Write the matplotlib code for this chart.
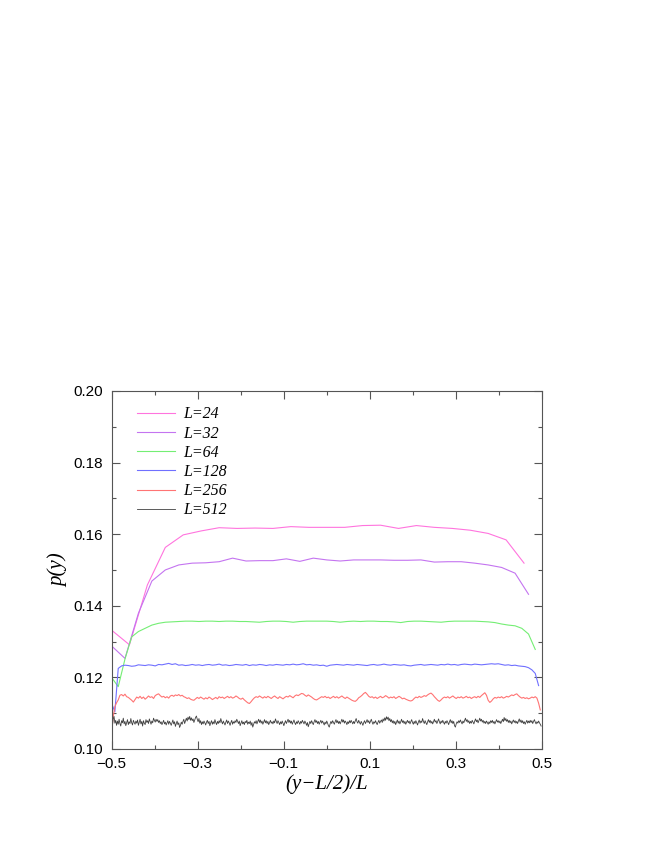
import numpy as np
import matplotlib
matplotlib.use("Agg")
import matplotlib.pyplot as plt
from matplotlib.ticker import MultipleLocator, FixedLocator

# p(y) profiles for each system size L, one value per site y = 0..L-1
L_SIZES = [24, 32, 64, 128, 256, 512]
LABELS = ["L=24", "L=32", "L=64", "L=128", "L=256", "L=512"]
COLORS = ["#ff74de", "#c474f0", "#74ee74", "#7070ff", "#ff7474", "#404040"]
WIDTHS = [0.8, 0.8, 0.8, 0.8, 0.8, 0.6]

p24 = [0.1332, 0.1291, 0.1458, 0.1563, 0.1598, 0.1609, 0.1618, 0.1616, 0.1617, 0.1616,
       0.1621, 0.1619, 0.1619, 0.1619, 0.1624, 0.1625, 0.1616, 0.1624, 0.1619, 0.1616,
       0.1611, 0.1602, 0.1584, 0.1519]

p32 = [0.1288, 0.1253, 0.1379, 0.1469, 0.1500, 0.1514, 0.1519, 0.1520, 0.1523, 0.1533,
       0.1525, 0.1526, 0.1526, 0.1531, 0.1524, 0.1533, 0.1528, 0.1525, 0.1528, 0.1528,
       0.1528, 0.1527, 0.1527, 0.1528, 0.1522, 0.1523, 0.1523, 0.1519, 0.1514, 0.1507,
       0.1491, 0.1432]

p64 = [0.1200, 0.1174, 0.1251, 0.1313, 0.1328, 0.1337, 0.1346, 0.1351, 0.1354, 0.1355,
       0.1356, 0.1357, 0.1357, 0.1356, 0.1357, 0.1357, 0.1356, 0.1357, 0.1357, 0.1356,
       0.1356, 0.1355, 0.1354, 0.1356, 0.1357, 0.1357, 0.1356, 0.1354, 0.1356, 0.1357,
       0.1357, 0.1357, 0.1357, 0.1356, 0.1354, 0.1356, 0.1357, 0.1356, 0.1357, 0.1357,
       0.1356, 0.1356, 0.1355, 0.1353, 0.1356, 0.1357, 0.1357, 0.1356, 0.1355, 0.1354,
       0.1356, 0.1357, 0.1357, 0.1357, 0.1357, 0.1356, 0.1355, 0.1353, 0.1349, 0.1346,
       0.1344, 0.1337, 0.1321, 0.1278]

p128 = [0.1128, 0.1104, 0.1225, 0.1232, 0.1234, 0.1233, 0.1231, 0.1232, 0.1235, 0.1234,
        0.1233, 0.1235, 0.1234, 0.1232, 0.1236, 0.1235, 0.1237, 0.1239, 0.1236, 0.1238,
        0.1234, 0.1235, 0.1233, 0.1234, 0.1236, 0.1234, 0.1235, 0.1233, 0.1235, 0.1236,
        0.1234, 0.1235, 0.1237, 0.1234, 0.1235, 0.1233, 0.1234, 0.1236, 0.1235, 0.1234,
        0.1236, 0.1233, 0.1235, 0.1234, 0.1236, 0.1235, 0.1233, 0.1235, 0.1234, 0.1236,
        0.1235, 0.1234, 0.1236, 0.1235, 0.1237, 0.1235, 0.1236, 0.1238, 0.1235, 0.1236,
        0.1234, 0.1235, 0.1233, 0.1234, 0.1231, 0.1234, 0.1235, 0.1236, 0.1235, 0.1234,
        0.1236, 0.1235, 0.1234, 0.1236, 0.1235, 0.1234, 0.1233, 0.1235, 0.1236, 0.1234,
        0.1235, 0.1237, 0.1235, 0.1234, 0.1236, 0.1235, 0.1234, 0.1235, 0.1233, 0.1232,
        0.1234, 0.1235, 0.1236, 0.1234, 0.1235, 0.1236, 0.1235, 0.1234, 0.1236, 0.1235,
        0.1237, 0.1235, 0.1236, 0.1234, 0.1236, 0.1237, 0.1236, 0.1235, 0.1237, 0.1236,
        0.1235, 0.1236, 0.1237, 0.1238, 0.1237, 0.1238, 0.1236, 0.1234, 0.1235, 0.1233,
        0.1234, 0.1232, 0.1231, 0.1230, 0.1227, 0.1221, 0.1211, 0.1177]

p256 = [0.1044, 0.1090, 0.1118, 0.1129, 0.1137, 0.1150, 0.1152, 0.1148, 0.1153, 0.1146, 0.1144, 0.1140, 0.1136, 0.1131, 0.1138, 0.1145,
        0.1142, 0.1147, 0.1141, 0.1145, 0.1139, 0.1143, 0.1148, 0.1144, 0.1146, 0.1141, 0.1149, 0.1152, 0.1154, 0.1149, 0.1145, 0.1147,
        0.1143, 0.1146, 0.1142, 0.1148, 0.1150, 0.1147, 0.1151, 0.1149, 0.1152, 0.1148, 0.1150, 0.1146, 0.1144, 0.1141, 0.1143, 0.1139,
        0.1137, 0.1136, 0.1140, 0.1144, 0.1141, 0.1145, 0.1142, 0.1139, 0.1143, 0.1140, 0.1145, 0.1142, 0.1138, 0.1141, 0.1144, 0.1140,
        0.1146, 0.1143, 0.1145, 0.1141, 0.1144, 0.1147, 0.1143, 0.1146, 0.1142, 0.1144, 0.1148, 0.1145, 0.1141, 0.1139, 0.1142, 0.1137,
        0.1133, 0.1129, 0.1127, 0.1132, 0.1138, 0.1143, 0.1146, 0.1144, 0.1148, 0.1145, 0.1142, 0.1146, 0.1143, 0.1147, 0.1144, 0.1141,
        0.1145, 0.1148, 0.1144, 0.1141, 0.1146, 0.1143, 0.1140, 0.1144, 0.1147, 0.1145, 0.1149, 0.1146, 0.1143, 0.1148, 0.1151, 0.1149,
        0.1152, 0.1155, 0.1154, 0.1150, 0.1147, 0.1151, 0.1148, 0.1145, 0.1141, 0.1138, 0.1137, 0.1140, 0.1143, 0.1146, 0.1144, 0.1147,
        0.1143, 0.1145, 0.1141, 0.1144, 0.1147, 0.1143, 0.1146, 0.1142, 0.1145, 0.1148, 0.1144, 0.1141, 0.1145, 0.1142, 0.1139, 0.1136,
        0.1134, 0.1133, 0.1137, 0.1143, 0.1146, 0.1150, 0.1155, 0.1158, 0.1153, 0.1147, 0.1144, 0.1146, 0.1142, 0.1145, 0.1141, 0.1144,
        0.1147, 0.1143, 0.1145, 0.1149, 0.1146, 0.1142, 0.1145, 0.1143, 0.1146, 0.1141, 0.1144, 0.1147, 0.1144, 0.1140, 0.1142, 0.1139,
        0.1137, 0.1135, 0.1134, 0.1136, 0.1141, 0.1145, 0.1143, 0.1147, 0.1144, 0.1146, 0.1149, 0.1147, 0.1151, 0.1154, 0.1156, 0.1152,
        0.1146, 0.1141, 0.1136, 0.1133, 0.1137, 0.1142, 0.1145, 0.1143, 0.1146, 0.1142, 0.1145, 0.1148, 0.1144, 0.1141, 0.1145, 0.1143,
        0.1146, 0.1142, 0.1144, 0.1147, 0.1143, 0.1145, 0.1141, 0.1144, 0.1146, 0.1143, 0.1147, 0.1144, 0.1149, 0.1153, 0.1157, 0.1150,
        0.1136, 0.1130, 0.1134, 0.1140, 0.1144, 0.1142, 0.1145, 0.1143, 0.1146, 0.1142, 0.1144, 0.1147, 0.1145, 0.1148, 0.1151, 0.1149,
        0.1152, 0.1154, 0.1149, 0.1145, 0.1142, 0.1144, 0.1141, 0.1143, 0.1140, 0.1142, 0.1145, 0.1143, 0.1146, 0.1142, 0.1128, 0.1109]

p512 = [0.1040, 0.1062, 0.1084, 0.1091, 0.1072, 0.1080, 0.1066, 0.1078, 0.1069, 0.1083, 0.1071, 0.1064, 0.1079, 0.1073, 0.1086, 0.1070,
        0.1077, 0.1065, 0.1074, 0.1082, 0.1068, 0.1076, 0.1071, 0.1085, 0.1073, 0.1067, 0.1080, 0.1074, 0.1069, 0.1078, 0.1072, 0.1081,
        0.1066, 0.1075, 0.1083, 0.1070, 0.1077, 0.1064, 0.1079, 0.1072, 0.1068, 0.1082, 0.1074, 0.1079, 0.1071, 0.1084, 0.1076, 0.1069,
        0.1078, 0.1073, 0.1086, 0.1080, 0.1075, 0.1083, 0.1077, 0.1082, 0.1074, 0.1079, 0.1071, 0.1076, 0.1068, 0.1074, 0.1080, 0.1070,
        0.1075, 0.1067, 0.1073, 0.1079, 0.1069, 0.1077, 0.1072, 0.1066, 0.1074, 0.1081, 0.1070, 0.1076, 0.1063, 0.1071, 0.1078, 0.1068,
        0.1073, 0.1060, 0.1066, 0.1075, 0.1069, 0.1077, 0.1083, 0.1071, 0.1079, 0.1086, 0.1078, 0.1089, 0.1082, 0.1091, 0.1080, 0.1087,
        0.1079, 0.1084, 0.1074, 0.1081, 0.1088, 0.1092, 0.1083, 0.1076, 0.1085, 0.1072, 0.1079, 0.1068, 0.1076, 0.1070, 0.1078, 0.1073,
        0.1067, 0.1075, 0.1080, 0.1071, 0.1077, 0.1065, 0.1073, 0.1079, 0.1069, 0.1076, 0.1070, 0.1082, 0.1074, 0.1068, 0.1077, 0.1071,
        0.1079, 0.1073, 0.1085, 0.1076, 0.1070, 0.1078, 0.1072, 0.1067, 0.1075, 0.1081, 0.1071, 0.1078, 0.1073, 0.1066, 0.1074, 0.1080,
        0.1069, 0.1076, 0.1072, 0.1079, 0.1074, 0.1083, 0.1077, 0.1071, 0.1078, 0.1065, 0.1072, 0.1079, 0.1070, 0.1075, 0.1068, 0.1077,
        0.1073, 0.1080, 0.1069, 0.1075, 0.1071, 0.1078, 0.1066, 0.1074, 0.1061, 0.1069, 0.1076, 0.1072, 0.1079, 0.1070, 0.1077, 0.1083,
        0.1074, 0.1081, 0.1072, 0.1078, 0.1069, 0.1075, 0.1082, 0.1073, 0.1079, 0.1071, 0.1077, 0.1068, 0.1074, 0.1080, 0.1072, 0.1076,
        0.1070, 0.1078, 0.1073, 0.1084, 0.1077, 0.1071, 0.1079, 0.1074, 0.1068, 0.1076, 0.1070, 0.1078, 0.1072, 0.1065, 0.1073, 0.1079,
        0.1071, 0.1077, 0.1083, 0.1074, 0.1080, 0.1072, 0.1078, 0.1069, 0.1075, 0.1081, 0.1073, 0.1068, 0.1076, 0.1071, 0.1079, 0.1074,
        0.1069, 0.1077, 0.1072, 0.1080, 0.1075, 0.1070, 0.1078, 0.1073, 0.1066, 0.1074, 0.1062, 0.1070, 0.1077, 0.1071, 0.1079, 0.1073,
        0.1068, 0.1076, 0.1082, 0.1074, 0.1079, 0.1071, 0.1077, 0.1069, 0.1075, 0.1080, 0.1072, 0.1078, 0.1073, 0.1067, 0.1075, 0.1070,
        0.1078, 0.1072, 0.1065, 0.1061, 0.1070, 0.1077, 0.1071, 0.1079, 0.1074, 0.1069, 0.1076, 0.1082, 0.1073, 0.1079, 0.1071, 0.1077,
        0.1070, 0.1076, 0.1083, 0.1075, 0.1081, 0.1072, 0.1078, 0.1074, 0.1068, 0.1076, 0.1071, 0.1079, 0.1073, 0.1080, 0.1075, 0.1070,
        0.1077, 0.1071, 0.1079, 0.1085, 0.1076, 0.1072, 0.1080, 0.1074, 0.1069, 0.1077, 0.1072, 0.1066, 0.1074, 0.1079, 0.1071, 0.1076,
        0.1082, 0.1074, 0.1079, 0.1071, 0.1077, 0.1083, 0.1075, 0.1069, 0.1076, 0.1072, 0.1079, 0.1073, 0.1068, 0.1075, 0.1080, 0.1072,
        0.1077, 0.1081, 0.1074, 0.1084, 0.1078, 0.1087, 0.1080, 0.1090, 0.1083, 0.1089, 0.1079, 0.1085, 0.1076, 0.1082, 0.1073, 0.1079,
        0.1071, 0.1077, 0.1068, 0.1075, 0.1081, 0.1072, 0.1078, 0.1070, 0.1076, 0.1083, 0.1074, 0.1079, 0.1071, 0.1077, 0.1069, 0.1075,
        0.1080, 0.1073, 0.1078, 0.1070, 0.1076, 0.1082, 0.1074, 0.1069, 0.1077, 0.1071, 0.1079, 0.1073, 0.1067, 0.1075, 0.1081, 0.1072,
        0.1078, 0.1074, 0.1085, 0.1077, 0.1071, 0.1079, 0.1073, 0.1068, 0.1076, 0.1082, 0.1074, 0.1080, 0.1072, 0.1077, 0.1070, 0.1076,
        0.1083, 0.1075, 0.1079, 0.1071, 0.1077, 0.1084, 0.1076, 0.1070, 0.1078, 0.1073, 0.1080, 0.1074, 0.1069, 0.1077, 0.1072, 0.1079,
        0.1074, 0.1068, 0.1076, 0.1082, 0.1073, 0.1079, 0.1071, 0.1077, 0.1065, 0.1061, 0.1070, 0.1076, 0.1072, 0.1079, 0.1074, 0.1081,
        0.1075, 0.1070, 0.1078, 0.1073, 0.1080, 0.1086, 0.1077, 0.1082, 0.1074, 0.1079, 0.1071, 0.1077, 0.1072, 0.1080, 0.1075, 0.1070,
        0.1078, 0.1084, 0.1076, 0.1081, 0.1073, 0.1079, 0.1086, 0.1078, 0.1083, 0.1075, 0.1080, 0.1072, 0.1077, 0.1071, 0.1078, 0.1074,
        0.1069, 0.1076, 0.1071, 0.1079, 0.1074, 0.1080, 0.1072, 0.1077, 0.1070, 0.1076, 0.1082, 0.1075, 0.1079, 0.1073, 0.1078, 0.1071,
        0.1077, 0.1083, 0.1076, 0.1088, 0.1079, 0.1085, 0.1077, 0.1082, 0.1074, 0.1080, 0.1073, 0.1078, 0.1070, 0.1076, 0.1081, 0.1074,
        0.1079, 0.1072, 0.1077, 0.1071, 0.1078, 0.1084, 0.1075, 0.1081, 0.1073, 0.1079, 0.1071, 0.1076, 0.1069, 0.1075, 0.1080, 0.1072,
        0.1078, 0.1073, 0.1080, 0.1074, 0.1079, 0.1071, 0.1077, 0.1082, 0.1075, 0.1070, 0.1076, 0.1072, 0.1078, 0.1073, 0.1069, 0.1064]

PROFILES = [p24, p32, p64, p128, p256, p512]

AXIS_GRAY = "#555555"
SANS = ["Liberation Sans", "DejaVu Sans"]
SERIF = ["Liberation Serif", "DejaVu Serif"]

fig = plt.figure(figsize=(6.54, 8.46), dpi=100)
ax = fig.add_axes([0.1705, 0.1147, 0.6582, 0.4232])

for L, vals, label, color, lw in zip(L_SIZES, PROFILES, LABELS, COLORS, WIDTHS):
    y_site = np.arange(L)
    x = (y_site - L / 2) / L
    ax.plot(x, vals, color=color, linewidth=lw, label=label)

ax.set_xlim(-0.5, 0.5)
ax.set_ylim(0.10, 0.20)

ax.xaxis.set_major_locator(FixedLocator([-0.5, -0.3, -0.1, 0.1, 0.3, 0.5]))
ax.xaxis.set_minor_locator(MultipleLocator(0.1))
ax.yaxis.set_major_locator(MultipleLocator(0.02))
ax.yaxis.set_minor_locator(MultipleLocator(0.01))
ax.xaxis.set_major_formatter(matplotlib.ticker.FuncFormatter(lambda v, _: f"{v:.1f}".replace("-", "\u2212")))
ax.yaxis.set_major_formatter(matplotlib.ticker.FuncFormatter(lambda v, _: f"{v:.2f}"))

ax.tick_params(which="both", direction="in", top=True, right=True, color=AXIS_GRAY, width=0.8)
ax.tick_params(which="major", length=6, labelsize=11, pad=6)
ax.tick_params(which="minor", length=3)
for lab in ax.get_xticklabels() + ax.get_yticklabels():
    lab.set_family(SANS)
for sp in ax.spines.values():
    sp.set_color(AXIS_GRAY)
    sp.set_linewidth(0.8)

ax.set_xlabel("(y\u2212L/2)/L", family=SERIF, style="italic", fontsize=15, labelpad=2)
ax.set_ylabel("p(y)", family=SERIF, style="italic", fontsize=15, labelpad=4)

leg = ax.legend(loc="upper left", bbox_to_anchor=(0.026, 0.997), frameon=False,
                handlelength=2.4, handletextpad=0.5, labelspacing=0.2,
                prop={"family": SERIF, "style": "italic", "size": 11.5})

fig.savefig("out.png", dpi=100, facecolor="white")
